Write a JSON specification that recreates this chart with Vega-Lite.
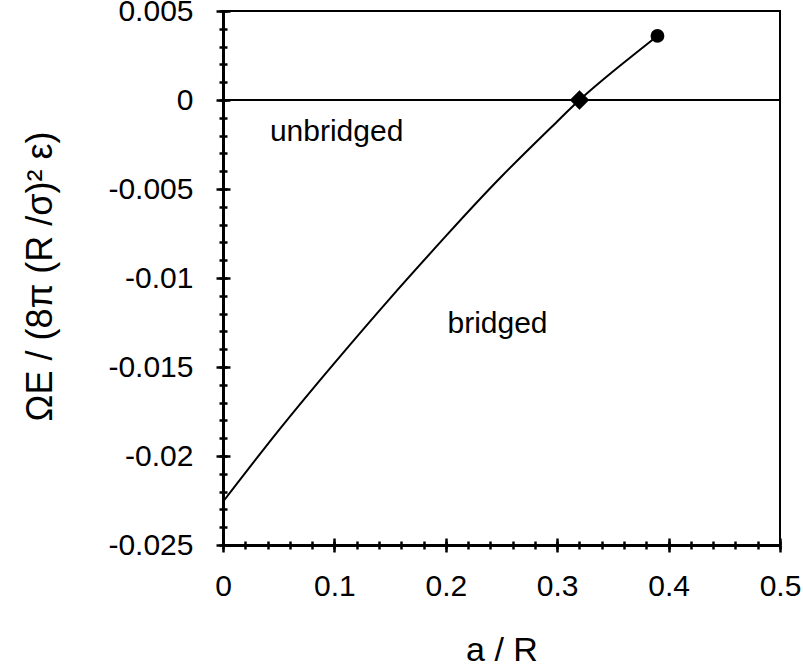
{
  "$schema": "https://vega.github.io/schema/vega-lite/v6.json",
  "width": 557,
  "height": 534,
  "autosize": "none",
  "padding": {"left": 223, "top": 11, "right": 23, "bottom": 123},
  "background": "white",
  "config": {
    "view": {"stroke": "black", "strokeWidth": 2},
    "axis": {
      "labelFont": "Liberation Sans",
      "titleFont": "Liberation Sans",
      "labelColor": "black",
      "titleColor": "black",
      "tickColor": "black",
      "domainColor": "black",
      "grid": false,
      "labelFontSize": 30,
      "titleFontSize": 32,
      "titleFontWeight": "normal",
      "tickWidth": 2.5,
      "domainWidth": 3,
      "labelFlush": false,
      "labelOverlap": false
    },
    "text": {"font": "Liberation Sans"}
  },
  "datasets": {
    "curve": [
      {"a": 0, "omega": -0.02257},
      {"a": 0.05, "omega": -0.01856},
      {"a": 0.1, "omega": -0.01478},
      {"a": 0.15, "omega": -0.01114},
      {"a": 0.2, "omega": -0.00765},
      {"a": 0.25, "omega": -0.0043},
      {"a": 0.3, "omega": -0.00121},
      {"a": 0.32, "omega": 0},
      {"a": 0.35, "omega": 0.0016},
      {"a": 0.39, "omega": 0.0036}
    ],
    "zero": [{"level": 0}],
    "points": [
      {"a": 0.32, "omega": 0, "kind": "transition"},
      {"a": 0.39, "omega": 0.0036, "kind": "end"}
    ],
    "labels": [
      {"a": 0.102, "omega": -0.0023, "label": "unbridged"},
      {"a": 0.2464, "omega": -0.0131, "label": "bridged"}
    ]
  },
  "resolve": {"axis": {"x": "independent", "y": "independent"}},
  "layer": [
    {
      "data": {"name": "curve"},
      "mark": {"type": "line", "color": "black", "strokeWidth": 2, "interpolate": "natural"},
      "encoding": {
        "x": {
          "field": "a", "type": "quantitative",
          "scale": {"domain": [0, 0.5], "nice": false, "zero": false},
          "axis": {
            "orient": "bottom",
            "values": [0, 0.1, 0.2, 0.3, 0.4, 0.5],
            "labelExpr": "'' + datum.value",
            "tickSize": 7,
            "labelPadding": 43,
            "labelBaseline": "alphabetic",
            "title": "a / R",
            "titleY": 115,
            "titleBaseline": "alphabetic",
            "titleFontSize": 34
          }
        },
        "y": {
          "field": "omega", "type": "quantitative",
          "scale": {"domain": [-0.025, 0.005], "nice": false, "zero": false},
          "axis": {
            "orient": "left",
            "values": [-0.025, -0.02, -0.015, -0.01, -0.005, 0, 0.005],
            "labelExpr": "'' + datum.value",
            "tickSize": 7,
            "labelPadding": 23,
            "labelBaseline": "middle",
            "title": "ΩE / (8π (R /σ)² ε)",
            "titleFontSize": 36,
            "titleX": -183,
            "titleY": 265,
            "titleAngle": 270,
            "titleAlign": "center",
            "titleBaseline": "middle"
          }
        }
      }
    },
    {
      "data": {"name": "zero"},
      "mark": {"type": "rule", "color": "black", "strokeWidth": 2},
      "encoding": {
        "y": {
          "field": "level", "type": "quantitative",
          "scale": {"domain": [-0.025, 0.005], "nice": false, "zero": false},
          "axis": {
            "orient": "left",
            "values": [-0.025, -0.02, -0.015, -0.01, -0.005, 0, 0.005],
            "tickSize": {"expr": "-7"},
            "labels": false,
            "domain": false,
            "title": null
          }
        }
      }
    },
    {
      "data": {"name": "points"},
      "mark": {"type": "point", "filled": true, "color": "black", "opacity": 1},
      "encoding": {
        "x": {
          "field": "a", "type": "quantitative",
          "scale": {"domain": [0, 0.5], "nice": false, "zero": false},
          "axis": {
            "orient": "bottom",
            "values": [0, 0.1, 0.2, 0.3, 0.4, 0.5],
            "tickSize": {"expr": "-7"},
            "labels": false,
            "domain": false,
            "title": null
          }
        },
        "y": {
          "field": "omega", "type": "quantitative",
          "scale": {"domain": [-0.025, 0.005], "nice": false, "zero": false},
          "axis": {
            "orient": "left",
            "values": [-0.025, -0.024, -0.023, -0.022, -0.021, -0.02, -0.019, -0.018, -0.017, -0.016, -0.015, -0.014, -0.013, -0.012, -0.011, -0.01, -0.009, -0.008, -0.007, -0.006, -0.005, -0.004, -0.003, -0.002, -0.001, 0, 0.001, 0.002, 0.003, 0.004, 0.005],
            "tickSize": 4,
            "labels": false,
            "domain": false,
            "title": null
          }
        },
        "shape": {
          "field": "kind", "type": "nominal",
          "scale": {"domain": ["transition", "end"], "range": ["diamond", "circle"]},
          "legend": null
        },
        "size": {
          "field": "kind", "type": "nominal",
          "scale": {"domain": ["transition", "end"], "range": [380, 190]},
          "legend": null
        }
      }
    },
    {
      "data": {"name": "labels"},
      "transform": [{"filter": "datum.label == 'unbridged'"}],
      "mark": {"type": "text", "fontSize": 30, "color": "black", "align": "center", "baseline": "alphabetic"},
      "encoding": {
        "x": {
          "field": "a", "type": "quantitative",
          "scale": {"domain": [0, 0.5], "nice": false, "zero": false},
          "axis": {
            "orient": "bottom",
            "values": [0, 0.02, 0.04, 0.06, 0.08, 0.1, 0.12, 0.14, 0.16, 0.18, 0.2, 0.22, 0.24, 0.26, 0.28, 0.3, 0.32, 0.34, 0.36, 0.38, 0.4, 0.42, 0.44, 0.46, 0.48, 0.5],
            "tickSize": 4,
            "labels": false,
            "domain": false,
            "title": null
          }
        },
        "y": {
          "field": "omega", "type": "quantitative",
          "scale": {"domain": [-0.025, 0.005], "nice": false, "zero": false},
          "axis": {
            "orient": "left",
            "values": [-0.025, -0.024, -0.023, -0.022, -0.021, -0.02, -0.019, -0.018, -0.017, -0.016, -0.015, -0.014, -0.013, -0.012, -0.011, -0.01, -0.009, -0.008, -0.007, -0.006, -0.005, -0.004, -0.003, -0.002, -0.001, 0, 0.001, 0.002, 0.003, 0.004, 0.005],
            "tickSize": {"expr": "-4"},
            "labels": false,
            "domain": false,
            "title": null
          }
        },
        "text": {"field": "label", "type": "nominal"}
      }
    },
    {
      "data": {"name": "labels"},
      "transform": [{"filter": "datum.label == 'bridged'"}],
      "mark": {"type": "text", "fontSize": 30, "color": "black", "align": "center", "baseline": "alphabetic"},
      "encoding": {
        "x": {
          "field": "a", "type": "quantitative",
          "scale": {"domain": [0, 0.5], "nice": false, "zero": false},
          "axis": {
            "orient": "bottom",
            "values": [0, 0.02, 0.04, 0.06, 0.08, 0.1, 0.12, 0.14, 0.16, 0.18, 0.2, 0.22, 0.24, 0.26, 0.28, 0.3, 0.32, 0.34, 0.36, 0.38, 0.4, 0.42, 0.44, 0.46, 0.48, 0.5],
            "tickSize": {"expr": "-4"},
            "labels": false,
            "domain": false,
            "title": null
          }
        },
        "y": {
          "field": "omega", "type": "quantitative",
          "scale": {"domain": [-0.025, 0.005], "nice": false, "zero": false},
          "axis": null
        },
        "text": {"field": "label", "type": "nominal"}
      }
    }
  ]
}
